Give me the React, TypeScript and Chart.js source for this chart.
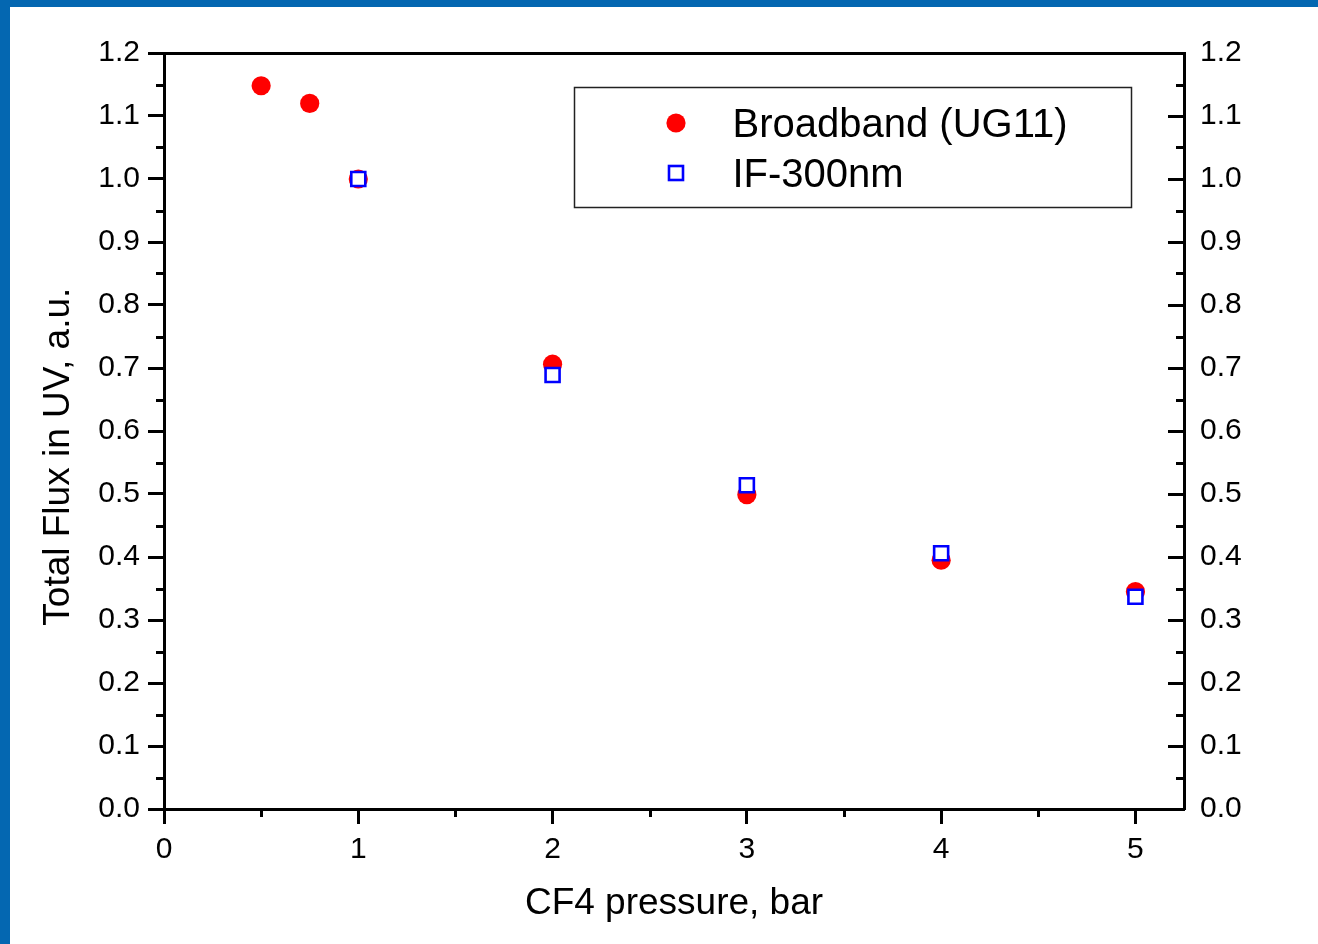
import React, { useEffect, useRef } from "react";
import { Chart, registerables } from "chart.js";

Chart.register(...registerables);

// ---- data ----
const pressureBroadband = [0.5, 0.75, 1, 2, 3, 4, 5];
const fluxBroadband = [1.148, 1.12, 1.0, 0.706, 0.499, 0.395, 0.345];
const pressureIF = [1, 2, 3, 4, 5];
const fluxIF = [1.0, 0.689, 0.514, 0.406, 0.337];

const seriesLabels = ["Broadband (UG11)", "IF-300nm"];
const xTickValues = [0, 1, 2, 3, 4, 5];
const yTickValues = [0, 0.1, 0.2, 0.3, 0.4, 0.5, 0.6, 0.7, 0.8, 0.9, 1.0, 1.1, 1.2];
const xTitle = "CF4 pressure, bar";
const yTitle = "Total Flux in UV, a.u.";

const FONT = "'Liberation Sans', Arial, Helvetica, sans-serif";
const RED = "#ff0000";
const BLUE = "#0000ff";

const W = 1318;
const H = 944;
const AREA = { left: 164, top: 53, right: 1184, bottom: 809 };

const tickMarksPlugin = {
  id: "tickMarks",
  afterDraw(chart: any) {
    const { ctx, chartArea } = chart;
    const x = chart.scales.x;
    const y = chart.scales.y2;
    ctx.save();
    ctx.strokeStyle = "#000";
    ctx.lineWidth = 3;
    ctx.lineCap = "butt";
    ctx.beginPath();
    for (let i = 0; i < yTickValues.length; i++) {
      const v = yTickValues[i];
      const p = Math.round(y.getPixelForValue(v)) + 0.5;
      ctx.moveTo(chartArea.right, p);
      ctx.lineTo(chartArea.right - 16, p);
      if (i < yTickValues.length - 1) {
        const m = (v + yTickValues[i + 1]) / 2;
        const pm = Math.round(y.getPixelForValue(m)) + 0.5;
        ctx.moveTo(chartArea.left - 8, pm);
        ctx.lineTo(chartArea.left, pm);
        ctx.moveTo(chartArea.right, pm);
        ctx.lineTo(chartArea.right - 8, pm);
      }
    }
    for (let i = 0; i < xTickValues.length - 1; i++) {
      const m = (xTickValues[i] + xTickValues[i + 1]) / 2;
      const pm = Math.round(x.getPixelForValue(m)) + 0.5;
      ctx.moveTo(pm, chartArea.bottom);
      ctx.lineTo(pm, chartArea.bottom + 8);
    }
    ctx.stroke();
    ctx.restore();
  },
};

const legendBoxPlugin = {
  id: "legendBox",
  afterDraw(chart: any) {
    const { ctx, chartArea } = chart;
    const bx = chartArea.left + 410.5;
    const by = chartArea.top + 34.5;
    const bw = 557;
    const bh = 120;
    ctx.save();
    ctx.fillStyle = "#ffffff";
    ctx.fillRect(bx, by, bw, bh);
    ctx.strokeStyle = "#222";
    ctx.lineWidth = 1.5;
    ctx.strokeRect(bx, by, bw, bh);
    const ds = chart.data.datasets;
    const rowY = [by + 35.5, by + 85.5];
    const mx = bx + 101.5;
    ds.forEach((d: any, i: number) => {
      const cy = rowY[i];
      if (d.pointStyle === "rect") {
        const s = Math.SQRT1_2 * d.pointRadius;
        ctx.fillStyle = d.pointBackgroundColor;
        ctx.fillRect(mx - s, cy - s, 2 * s, 2 * s);
        ctx.strokeStyle = d.pointBorderColor;
        ctx.lineWidth = d.pointBorderWidth;
        ctx.strokeRect(mx - s, cy - s, 2 * s, 2 * s);
      } else {
        ctx.beginPath();
        ctx.arc(mx, cy, d.pointRadius, 0, Math.PI * 2);
        ctx.fillStyle = d.pointBackgroundColor;
        ctx.fill();
      }
      ctx.fillStyle = "#000";
      ctx.font = `40px ${FONT}`;
      ctx.textAlign = "left";
      ctx.textBaseline = "alphabetic";
      ctx.fillText(d.label, bx + 158, cy + 13.5);
    });
    ctx.restore();
  },
};

function App() {
  const canvasRef = useRef<HTMLCanvasElement | null>(null);

  useEffect(() => {
    const canvas = canvasRef.current;
    if (!canvas) return;
    const tickFont = { family: FONT, size: 30, lineHeight: 1.2 };
    const titleFont = { family: FONT, size: 37, lineHeight: 1.2 };
    const fmt = (v: any) => Number(v).toFixed(1);

    const chart = new Chart(canvas, {
      type: "scatter",
      data: {
        datasets: [
          {
            label: seriesLabels[0],
            data: pressureBroadband.map((p, i) => ({ x: p, y: fluxBroadband[i] })),
            pointStyle: "circle",
            pointRadius: 9.6,
            pointBackgroundColor: RED,
            pointBorderColor: RED,
            pointBorderWidth: 0,
            showLine: false,
            order: 1,
          } as any,
          {
            label: seriesLabels[1],
            data: pressureIF.map((p, i) => ({ x: p, y: fluxIF[i] })),
            pointStyle: "rect",
            pointRadius: 9.9,
            pointBackgroundColor: "#ffffff",
            pointBorderColor: BLUE,
            pointBorderWidth: 2.6,
            showLine: false,
            order: 0,
          } as any,
        ],
      },
      options: {
        responsive: false,
        maintainAspectRatio: false,
        devicePixelRatio: 1,
        animation: false,
        layout: { padding: 0 },
        plugins: {
          legend: { display: false },
          tooltip: { enabled: false },
          title: { display: false },
        },
        scales: {
          x: {
            type: "linear",
            position: "bottom",
            min: 0,
            max: 5.25,
            afterFit: (s: any) => {
              s.height = H - AREA.bottom;
            },
            afterBuildTicks: (s: any) => {
              s.ticks = xTickValues.map((v) => ({ value: v }));
            },
            ticks: {
              stepSize: 1,
              includeBounds: false,
              color: "#000",
              font: tickFont,
              padding: 8,
              maxRotation: 0,
              callback: (v: any) => String(v),
            },
            grid: {
              display: true,
              drawOnChartArea: false,
              drawTicks: true,
              tickLength: 15,
              tickWidth: 3,
              tickColor: "#000",
            },
            border: { display: true, width: 3, color: "#000" },
            title: {
              display: true,
              text: xTitle,
              color: "#000",
              font: titleFont,
              padding: { top: 0, bottom: 18 },
            },
          },
          x2: {
            type: "linear",
            position: "top",
            min: 0,
            max: 5.25,
            afterFit: (s: any) => {
              s.height = AREA.top;
            },
            ticks: { display: false },
            grid: { display: true, drawOnChartArea: false, drawTicks: false },
            border: { display: true, width: 3, color: "#000" },
          },
          y: {
            type: "linear",
            position: "left",
            min: 0,
            max: 1.2,
            afterFit: (s: any) => {
              s.width = AREA.left;
            },
            afterBuildTicks: (s: any) => {
              s.ticks = yTickValues.map((v) => ({ value: v }));
            },
            ticks: {
              stepSize: 0.1,
              color: "#000",
              font: tickFont,
              padding: 8,
              callback: fmt,
            },
            grid: {
              display: true,
              drawOnChartArea: false,
              drawTicks: true,
              tickLength: 16,
              tickWidth: 3,
              tickColor: "#000",
            },
            border: { display: true, width: 3, color: "#000" },
            title: {
              display: true,
              text: yTitle + "\u00a0\u00a0\u00a0\u00a0\u00a0",
              color: "#000",
              font: titleFont,
              padding: { top: 37, bottom: 0 },
            },
          },
          y2: {
            type: "linear",
            position: "right",
            min: 0,
            max: 1.2,
            afterFit: (s: any) => {
              s.width = W - AREA.right;
            },
            afterBuildTicks: (s: any) => {
              s.ticks = yTickValues.map((v) => ({ value: v }));
            },
            ticks: {
              stepSize: 0.1,
              color: "#000",
              font: tickFont,
              padding: 16,
              callback: fmt,
            },
            grid: { display: true, drawOnChartArea: false, drawTicks: false },
            border: { display: true, width: 3, color: "#000" },
          },
        },
      } as any,
      plugins: [tickMarksPlugin, legendBoxPlugin],
    });
    return () => chart.destroy();
  }, []);

  return (
    <div
      style={{
        position: "fixed",
        left: 0,
        top: 0,
        width: W,
        height: H,
        background: "#ffffff",
        overflow: "hidden",
      }}
    >
      <canvas
        ref={canvasRef}
        width={W}
        height={H}
        style={{ position: "absolute", left: 0, top: 0, width: W, height: H, display: "block" }}
      />
      <div style={{ position: "absolute", left: 0, top: 0, width: W, height: 7, background: "#0467b1" }} />
      <div style={{ position: "absolute", left: 0, top: 0, width: 10, height: H, background: "#0467b1" }} />
    </div>
  );
}

export default App;
